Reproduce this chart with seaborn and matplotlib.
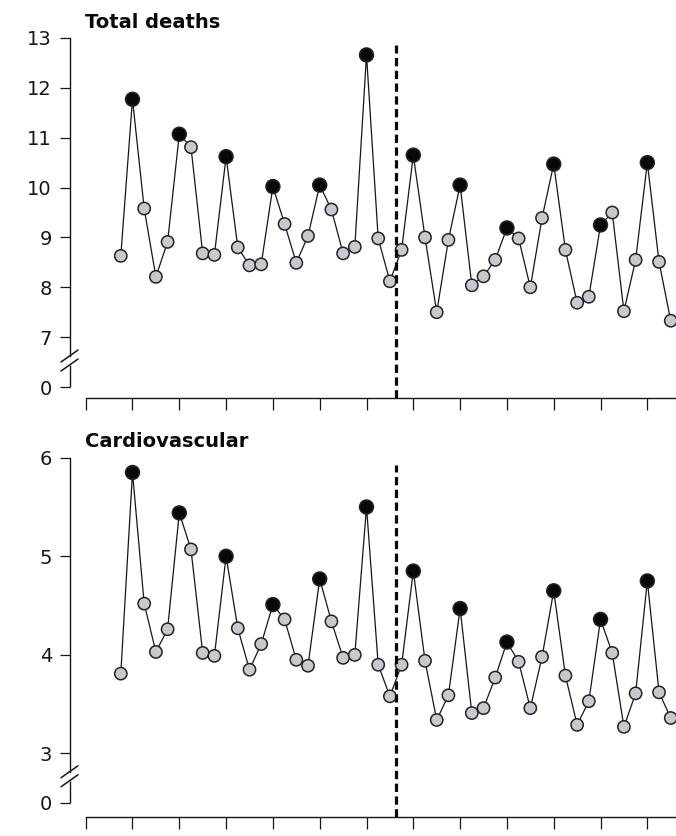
import matplotlib
matplotlib.use("Agg")
import matplotlib.pyplot as plt
import numpy as np
import pandas as pd
import seaborn as sns
from matplotlib.lines import Line2D
from matplotlib.transforms import IdentityTransform

# Quarterly death rates, before and after the intervention
quarter = list(range(48))
total_deaths = [8.63, 11.77, 9.58, 8.21, 8.91, 11.07, 10.81, 8.68, 8.65, 10.62,
                8.80, 8.44, 8.46, 10.02, 9.27, 8.49, 9.03, 10.05, 9.56, 8.68,
                8.81, 12.66, 8.98, 8.12, 8.75, 10.65, 9.00, 7.50, 8.95, 10.05,
                8.04, 8.22, 8.55, 9.19, 8.98, 8.00, 9.39, 10.47, 8.75, 7.69,
                7.81, 9.25, 9.50, 7.52, 8.55, 10.50, 8.51, 7.33]
cardiovascular = [3.81, 5.85, 4.52, 4.03, 4.26, 5.44, 5.07, 4.02, 3.99, 5.00,
                  4.27, 3.85, 4.11, 4.51, 4.36, 3.95, 3.89, 4.77, 4.34, 3.97,
                  4.00, 5.50, 3.90, 3.58, 3.90, 4.85, 3.94, 3.34, 3.59, 4.47,
                  3.41, 3.46, 3.77, 4.13, 3.93, 3.46, 3.98, 4.65, 3.79, 3.29,
                  3.53, 4.36, 4.02, 3.27, 3.61, 4.75, 3.62, 3.36]
# winter quarters are drawn in black
season = ["winter" if q % 4 == 1 else "other" for q in quarter]
cutoff = 23.5

total_ticks = [7, 8, 9, 10, 11, 12, 13]
cardio_ticks = [3, 4, 5, 6]

sns.set_theme(style="white")
plt.rcParams["font.family"] = ["DejaVu Sans"]

W, H = 676, 836
fig = plt.figure(figsize=(W / 100, H / 100), dpi=100)
fig.patch.set_facecolor("white")

INK = "#15151c"
XLIM = (-4.34, 47.45)


def px_box(left, top, bottom):
    return [left / W, 1 - bottom / H, (W - left) / W, (bottom - top) / H]


def panel(box, values, title, ticks, zero_at, ylim, title_y):
    ax = fig.add_axes(px_box(*box))
    df = pd.DataFrame({"quarter": quarter, "rate": values, "season": season})
    sns.lineplot(data=df, x="quarter", y="rate", color=INK, lw=0.9,
                 ax=ax, zorder=2)
    sns.scatterplot(data=df, x="quarter", y="rate", hue="season",
                    size="season",
                    palette={"winter": "#080808", "other": "#c8c8ce"},
                    sizes={"winter": 100, "other": 78},
                    edgecolor="#222228", linewidth=1.1, ax=ax,
                    legend=False, zorder=3)
    ax.set_xlabel("")
    ax.set_ylabel("")

    # y axis: a zero tick below a broken scale
    ax.set_yticks([zero_at] + ticks)
    ax.set_yticklabels(["0"] + [str(t) for t in ticks])
    ax.tick_params(axis="y", direction="out", length=7.5, width=0.9,
                   pad=5.5, labelsize=14, colors=INK, left=True)
    ax.set_xticks(np.arange(-3, 50, 4))
    ax.set_xticklabels([])
    ax.tick_params(axis="x", direction="out", length=8.6, width=0.9,
                   colors=INK, bottom=True)
    ax.set_xlim(*XLIM)
    ax.set_ylim(*ylim)

    # intervention marker
    top_line = ticks[-1] - 0.02 * (ticks[-1] - zero_at)
    ax.vlines(cutoff, ylim[0], top_line, color="#0a0a0a", lw=2.3,
              linestyles=(0, (2.6, 1.4)), zorder=4)

    for side in ("top", "right"):
        ax.spines[side].set_visible(False)
    ax.spines["bottom"].set_bounds(-3, XLIM[1])
    ax.spines["bottom"].set_color(INK)
    ax.spines["bottom"].set_linewidth(1.0)

    ppu = (box[2] - box[1]) / (ylim[1] - ylim[0])  # pixels per unit
    gap_lo = zero_at + 22 / ppu
    gap_hi = zero_at + 31 / ppu
    ax.spines["left"].set_bounds(gap_hi, ticks[-1])
    ax.spines["left"].set_color(INK)
    ax.spines["left"].set_linewidth(1.0)
    ax.plot([0, 0], [zero_at, gap_lo], transform=ax.get_yaxis_transform(),
            color=INK, lw=1.0, clip_on=False, solid_capstyle="butt")
    ax.set_xlim(*XLIM)
    ax.set_ylim(*ylim)

    # break slashes
    for yv in (gap_lo, gap_hi):
        x0, y0 = ax.transData.transform((XLIM[0], yv))
        fig.add_artist(Line2D([x0 - 9, x0 + 8], [y0 - 6, y0 + 6],
                              transform=IdentityTransform(), color=INK,
                              lw=1.1))

    fig.text(85 / W, 1 - title_y / H, title, ha="left", va="baseline",
             fontsize=14, fontweight="bold", color="#0a0a0a")
    return ax


panel((70, 30, 398), total_deaths, "Total deaths", total_ticks, 6,
      (5.78, 13.16), 28)
panel((70, 450, 816.7), cardiovascular, "Cardiovascular", cardio_ticks, 2.5,
      (2.359, 6.078), 447)

fig.savefig("out.png", dpi=100, facecolor="white")
